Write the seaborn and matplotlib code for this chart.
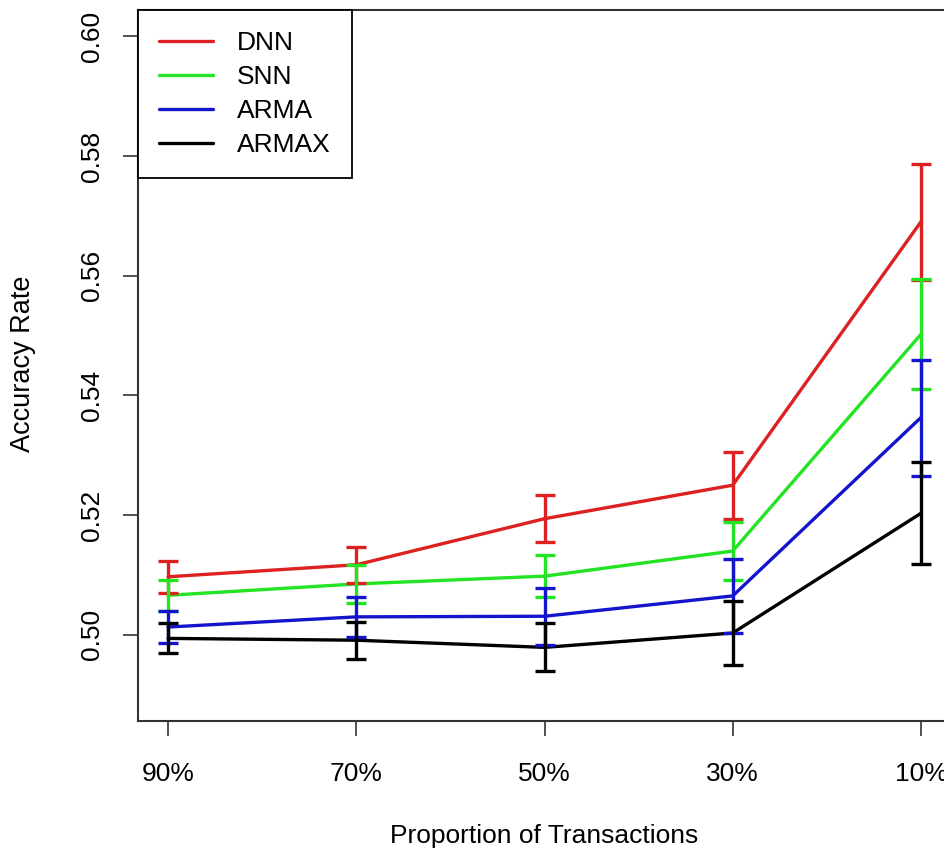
import matplotlib
matplotlib.use("Agg")
import matplotlib.pyplot as plt
import pandas as pd
import seaborn as sns

# Proportion of transactions used (x categories)
proportions = ["90%", "70%", "50%", "30%", "10%"]
models = ["DNN", "SNN", "ARMA", "ARMAX"]

# Mean accuracy and half-width of the error bar for each model
dnn_mean = [0.5097, 0.5117, 0.5194, 0.5250, 0.5690]
dnn_err = [0.0027, 0.0030, 0.0039, 0.0056, 0.0097]
snn_mean = [0.5066, 0.5085, 0.5098, 0.5140, 0.5502]
snn_err = [0.0026, 0.0031, 0.0035, 0.0048, 0.0092]
arma_mean = [0.5013, 0.5030, 0.5031, 0.5065, 0.5363]
arma_err = [0.0026, 0.0034, 0.0048, 0.0062, 0.0097]
armax_mean = [0.4994, 0.4991, 0.4979, 0.5003, 0.5203]
armax_err = [0.0025, 0.0031, 0.0040, 0.0053, 0.0085]

y_ticks = [0.50, 0.52, 0.54, 0.56, 0.58, 0.60]
colors = {"DNN": "#dd2020", "SNN": "#22e422", "ARMA": "#1414cc", "ARMAX": "#000000"}

means = {"DNN": dnn_mean, "SNN": snn_mean, "ARMA": arma_mean, "ARMAX": armax_mean}
errs = {"DNN": dnn_err, "SNN": snn_err, "ARMA": arma_err, "ARMAX": armax_err}
positions = list(range(1, len(proportions) + 1))

rows = []
for m in models:
    for p, v, e in zip(positions, means[m], errs[m]):
        rows.append({"pos": p, "accuracy": v, "err": e, "model": m})
df = pd.DataFrame(rows)

sns.set_style("white")
plt.rcParams["font.family"] = ["Liberation Sans", "DejaVu Sans"]
plt.rcParams["text.color"] = "black"
plt.rcParams["xtick.color"] = "black"
plt.rcParams["ytick.color"] = "black"
FS = 19

W, H = 945, 855
fig = plt.figure(figsize=(W / 100, H / 100), dpi=100)
ax = fig.add_axes([138 / W, 1 - 721 / H, (951 - 138) / W, (721 - 10) / H])

sns.lineplot(data=df, x="pos", y="accuracy", hue="model", hue_order=models,
             palette=colors, linewidth=2.4, ax=ax, sort=False)

for m in models:
    sub = df[df["model"] == m]
    ax.errorbar(sub["pos"], sub["accuracy"], yerr=sub["err"], fmt="none",
                ecolor=colors[m], elinewidth=2.4, capsize=7.5, capthick=2.4)

ax.set_xlim(0.84, 5.16)
ax.set_ylim(0.4856, 0.6044)

ax.set_xticks(positions)
ax.set_xticklabels(proportions, fontsize=FS, color="black")
ax.set_yticks(y_ticks)
ax.set_yticklabels([f"{v:.2f}" for v in y_ticks], fontsize=FS, color="black",
                   rotation=90, va="center", ha="right")
ax.tick_params(axis="x", direction="out", length=10.8, width=1.1,
               color="#222222", pad=18.5, bottom=True)
ax.tick_params(axis="y", direction="out", length=10.8, width=1.1,
               color="#222222", pad=13.5, left=True)

for s in ax.spines.values():
    s.set_visible(True)
    s.set_color("#333333")
    s.set_linewidth(1.5)

ax.set_xlabel("")
ax.set_ylabel("")
fig.text(544.5 / W, 1 - 843 / H, "Proportion of Transactions", fontsize=FS,
         ha="center", va="baseline", color="black")
fig.text(23 / W, 1 - 364 / H, "Accuracy Rate", fontsize=FS + 0.5,
         ha="center", va="center", rotation=90, color="black")

old = ax.get_legend()
handles = old.legend_handles
labels = [t.get_text() for t in old.texts]
old.remove()
leg = ax.legend(handles, labels, loc="upper left", bbox_to_anchor=(0, 1),
                borderaxespad=0, fontsize=FS, frameon=True, fancybox=False,
                framealpha=1, edgecolor="black", borderpad=0.8,
                handlelength=2.05, handletextpad=0.9, labelspacing=0.38)
leg.get_frame().set_linewidth(1.3)
for t in leg.get_texts():
    t.set_color("black")
for h in leg.legend_handles:
    h.set_linewidth(2.4)

fig.savefig("out.png", dpi=100, facecolor="white")
